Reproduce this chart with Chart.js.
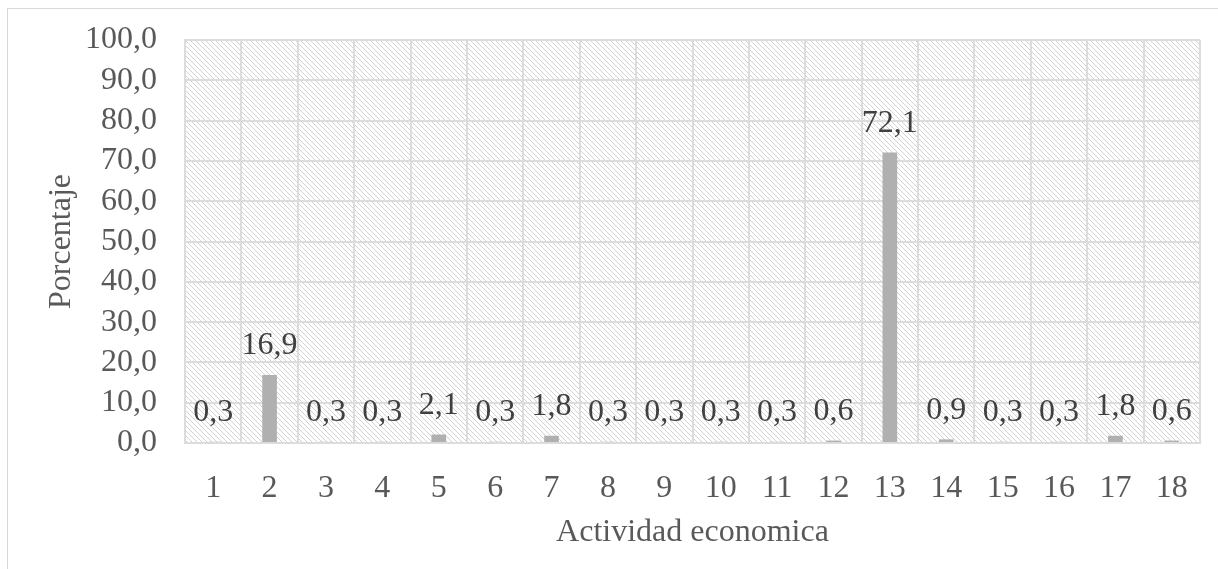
<!DOCTYPE html>
<html>
<head>
<meta charset="utf-8">
<title>Actividad economica</title>
<script src="https://cdn.jsdelivr.net/npm/chart.js@4"></script>
<style>
  body { margin: 0; background: #fff; }
  #wrap { position: relative; width: 1218px; height: 569px; overflow: hidden; }
  #frame { position: absolute; left: 7px; top: 8px; width: 1230px; height: 580px; border: 1.5px solid #d9d9d9; box-sizing: border-box; }
  #chart { position: absolute; left: 0; top: 0; }
</style>
</head>
<body>
<div id="wrap">
  <div id="frame"></div>
  <canvas id="chart" width="1218" height="569"></canvas>
</div>
<script>
// Share of each economic activity, in percent
const activityLabels = ['1', '2', '3', '4', '5', '6', '7', '8', '9', '10', '11', '12', '13', '14', '15', '16', '17', '18'];
const shareValues = [0.3, 16.9, 0.3, 0.3, 2.1, 0.3, 1.8, 0.3, 0.3, 0.3, 0.3, 0.6, 72.1, 0.9, 0.3, 0.3, 1.8, 0.6];

// Y axis range
const yMin = 0;
const yMax = 100;
const yStep = 10;

const serif = "'Liberation Serif', 'Times New Roman', serif";
const fmt = v => v.toFixed(1).replace('.', ',');

// small tile with a downward diagonal line, repeated over the plot area
function makeHatch() {
  const size = 5;
  const tile = document.createElement('canvas');
  tile.width = size;
  tile.height = size;
  const tctx = tile.getContext('2d');
  tctx.fillStyle = '#ffffff';
  tctx.fillRect(0, 0, size, size);
  const img = tctx.getImageData(0, 0, size, size);
  for (let i = 0; i < size; i++) {
    const p = (i * size + i) * 4;
    img.data[p] = 210; img.data[p + 1] = 210; img.data[p + 2] = 210; img.data[p + 3] = 255;
  }
  tctx.putImageData(img, 0, 0);
  return tctx.createPattern(tile, 'repeat');
}

const hatchBackground = {
  id: 'hatchBackground',
  beforeDraw(chart) {
    const { ctx, chartArea } = chart;
    ctx.save();
    ctx.fillStyle = makeHatch();
    ctx.fillRect(chartArea.left, chartArea.top, chartArea.width, chartArea.height);
    ctx.restore();
  }
};

// value above every bar
const barValues = {
  id: 'barValues',
  afterDatasetsDraw(chart) {
    const { ctx } = chart;
    const meta = chart.getDatasetMeta(0);
    ctx.save();
    ctx.font = '32px ' + serif;
    ctx.fillStyle = '#404040';
    ctx.textAlign = 'center';
    ctx.textBaseline = 'bottom';
    meta.data.forEach((bar, i) => {
      ctx.fillText(fmt(shareValues[i]), bar.x, bar.y - 13);
    });
    ctx.restore();
  }
};

new Chart(document.getElementById('chart'), {
  type: 'bar',
  data: {
    labels: activityLabels,
    datasets: [{
      data: shareValues,
      backgroundColor: '#b0b0b0',
      borderWidth: 0,
      categoryPercentage: 1,
      barPercentage: 0.26
    }]
  },
  options: {
    responsive: false,
    animation: false,
    layout: { padding: { top: 40, right: 18, bottom: 0, left: 0 } },
    plugins: {
      legend: { display: false },
      tooltip: { enabled: false }
    },
    scales: {
      x: {
        grid: { color: '#dcdcdc', lineWidth: 2, drawTicks: false, offset: true },
        border: { color: '#dcdcdc', width: 2 },
        ticks: { color: '#595959', font: { family: serif, size: 32 }, padding: 26, autoSkip: false, maxRotation: 0 },
        title: {
          display: true,
          text: 'Actividad economica',
          color: '#595959',
          font: { family: serif, size: 32 },
          padding: { top: 0, bottom: 17 }
        },
        afterFit(scale) {
          scale.height = 126;
          scale.paddingLeft = 0;
          scale.paddingRight = 0;
        }
      },
      y: {
        min: yMin,
        max: yMax,
        grid: { color: '#dcdcdc', lineWidth: 2, drawTicks: false },
        border: { color: '#dcdcdc', width: 2 },
        ticks: {
          stepSize: yStep,
          autoSkip: false,
          color: '#595959',
          font: { family: serif, size: 32 },
          padding: 28,
          callback: v => fmt(v)
        },
        title: {
          display: true,
          text: 'Porcentaje',
          color: '#595959',
          font: { family: serif, size: 32 },
          padding: { top: 42, bottom: 0 }
        },
        afterFit(scale) {
          scale.width = 185;
          scale.paddingTop = 0;
          scale.paddingBottom = 0;
        }
      }
    }
  },
  plugins: [hatchBackground, barValues]
});
</script>
</body>
</html>
